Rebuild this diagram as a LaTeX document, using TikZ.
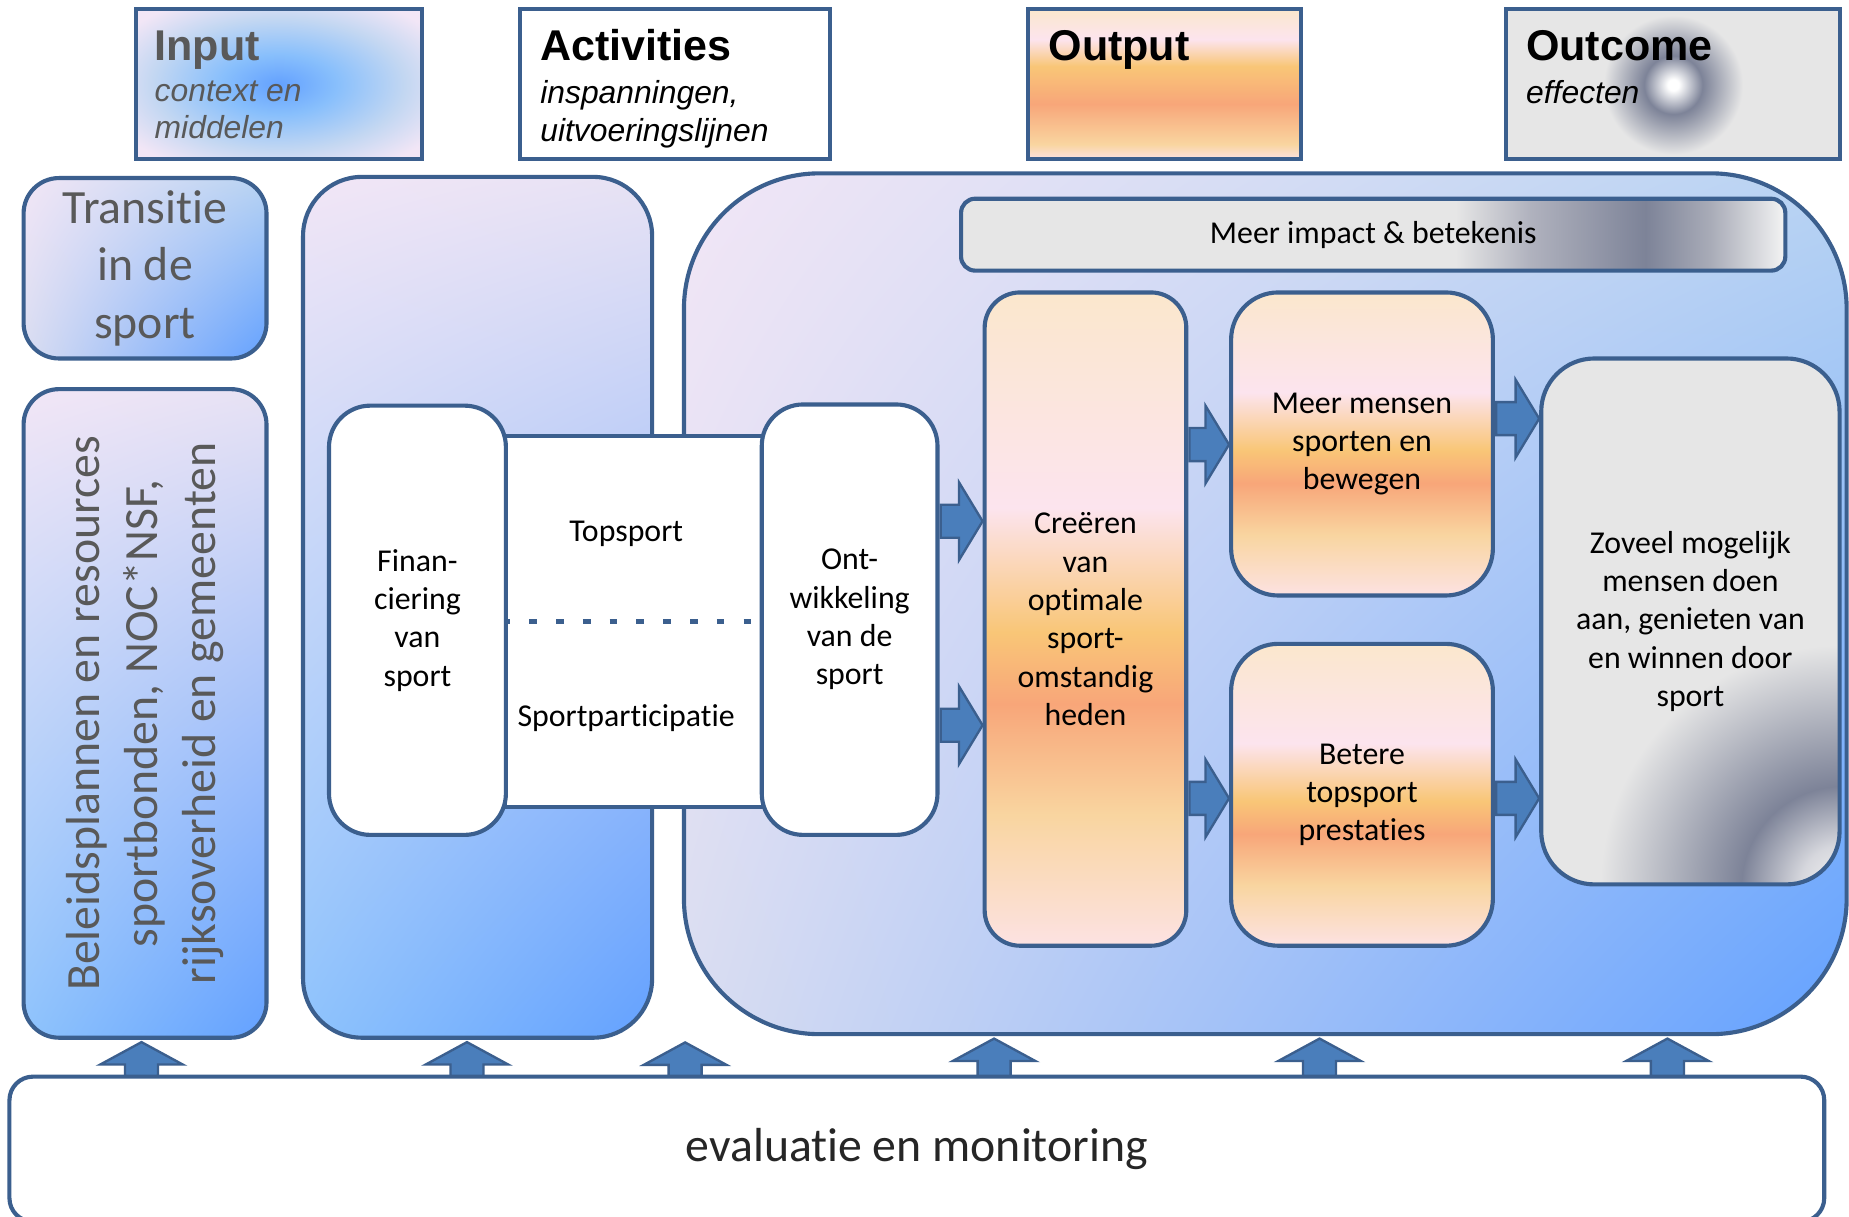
\documentclass[tikz,border=0pt]{standalone}
\usepackage{fontspec}
\setmainfont{Carlito}[Ligatures=NoCommon]
\newfontfamily\arialfont{Liberation Sans}
\usetikzlibrary{calc,shadings}

\definecolor{edge}{HTML}{3B5F8E}
\definecolor{arrowblue}{HTML}{4A7EBB}
\definecolor{greytext}{HTML}{595959}
\definecolor{lavender}{HTML}{F2E6F6}
\definecolor{lilac}{HTML}{E7E2F4}
\definecolor{skyblue}{HTML}{8EC3FC}
\definecolor{deepblue}{HTML}{63A1FF}
\definecolor{paleblue}{HTML}{B8D3F2}
\definecolor{mistblue}{HTML}{D9DDF1}
\definecolor{outgray}{HTML}{E6E6E6}
\definecolor{spotdark}{HTML}{7D8398}
\definecolor{spotlight}{HTML}{D6D7DD}
\definecolor{peach}{HTML}{FBE7CD}
\definecolor{blush}{HTML}{FCE4EE}
\definecolor{apricot}{HTML}{F9C677}
\definecolor{sunsalmon}{HTML}{F8A679}
\definecolor{cream}{HTML}{F9D5A0}
\definecolor{rosewhite}{HTML}{FCE2E2}
\definecolor{glowmid}{HTML}{88BFFC}
\definecolor{glowpale}{HTML}{C3D7F2}
\definecolor{impmid}{HTML}{B0B2BE}
\definecolor{impfade}{HTML}{A9ACB8}
\definecolor{impwhite}{HTML}{F4F4F4}

\pgfdeclareverticalshading{sunset}{100bp}{color(0bp)=(rosewhite); color(25bp)=(rosewhite);
  color(35bp)=(cream); color(43.5bp)=(sunsalmon); color(49bp)=(apricot);
  color(58.5bp)=(blush); color(75bp)=(peach); color(100bp)=(peach)}
\pgfdeclareverticalshading{outsunset}{100bp}{color(0bp)=(rosewhite); color(25bp)=(rosewhite);
  color(30bp)=(cream); color(43.5bp)=(sunsalmon); color(56bp)=(apricot);
  color(65bp)=(blush); color(75bp)=(peach); color(100bp)=(peach)}
\pgfdeclarehorizontalshading{impact}{100bp}{color(0bp)=(outgray); color(55bp)=(outgray);
  color(59.5bp)=(impmid); color(66.5bp)=(spotdark); color(70.5bp)=(impfade);
  color(75bp)=(impwhite); color(100bp)=(impwhite)}
\pgfdeclareradialshading{inputglow}{\pgfpoint{0bp}{0bp}}{color(0bp)=(deepblue);
  color(10bp)=(glowmid); color(22bp)=(glowpale); color(32bp)=(lavender); color(50bp)=(lavender)}
\pgfdeclareradialshading{outspot}{\pgfpoint{0bp}{0bp}}{color(0bp)=(white);
  color(2bp)=(white); color(10.5bp)=(spotdark); color(25bp)=(outgray); color(50bp)=(outgray)}
\pgfdeclareradialshading{zovspot}{\pgfpoint{0bp}{0bp}}{color(0bp)=(impwhite);
  color(4.3bp)=(spotlight); color(10.4bp)=(spotdark); color(25bp)=(outgray); color(50bp)=(outgray)}

\newcommand\blockright[3]{%
  \draw[blockarrow] let \p1=(#1.east), \p2=(#2.west), \p3=(0,#3) in
    (\x1+1pt,\y3+14pt) -- (\x2-20pt,\y3+14pt) -- (\x2-20pt,\y3+33pt) -- (\x2,\y3)
    -- (\x2-20pt,\y3-33pt) -- (\x2-20pt,\y3-14pt) -- (\x1+1pt,\y3-14pt) -- cycle;}
\newcommand\blockup[2]{%
  \draw[blockarrow] let \p1=(eval.north), \p2=(#2), \p3=(#1,0) in
    (\x3-14pt,\y1-1pt) -- (\x3-14pt,\y2-21pt) -- (\x3-35pt,\y2-21pt) -- (\x3,\y2-2pt)
    -- (\x3+35pt,\y2-21pt) -- (\x3+14pt,\y2-21pt) -- (\x3+14pt,\y1-1pt) -- cycle;}

\begin{document}
\begin{tikzpicture}[x=1pt, y=-1pt,
  frame/.style={draw=edge, line width=3.5pt, inner sep=0pt},
  roundbox/.style={frame, rounded corners=30pt},
  bodytext/.style={font=\fontsize{27}{32.5}\selectfont, align=center, text=black},
  bigtext/.style={font=\fontsize{40.5}{49}\selectfont, align=center, text=greytext},
  headtitle/.style={font=\arialfont\bfseries\fontsize{36.5}{40}\selectfont, anchor=base west, inner sep=0pt},
  headsub/.style={font=\arialfont\itshape\fontsize{27}{32}\selectfont, anchor=north west, align=left, inner sep=0pt},
  blockarrow/.style={fill=arrowblue, draw=edge, line width=2pt, line join=miter}]
\useasboundingbox[fill=white] (0,0) rectangle (1568,1032);

\node[frame, minimum width=243pt, minimum height=127pt, shade, shading=inputglow] (inputhdr) at (236.5,71.5) {};
\node[headtitle, text=greytext] (inputtitle) at (131,51) {Input};
\node[headsub, text=greytext] (inputsub) at (131,68) {context en\\middelen};

\node[frame, minimum width=263pt, minimum height=127pt, fill=white] (acthdr) at (572.5,71.5) {};
\node[headtitle] (acttitle) at (458,51) {Activities};
\node[headsub] (actsub) at (458,68) {inspanningen,\\uitvoeringslijnen};

\node[frame, minimum width=231pt, minimum height=127pt, shade, shading=outsunset] (outhdr) at (987.5,71.5) {};
\node[headtitle] (outtitle) at (889,51) {Output};

\node[frame, minimum width=283pt, minimum height=127pt, fill=outgray] (outchdr) at (1418.5,71.5) {};
\begin{scope}
\clip (1279,10) rectangle (1558,133);
\shade[shading=outspot] (1419,72) circle (59pt);
\end{scope}
\node[headtitle] (outctitle) at (1294,51) {Outcome};
\node[headsub] (outcsub) at (1294,68) {effecten};

\node[roundbox, bigtext, minimum width=206pt, minimum height=153pt,
  upper left=lavender, upper right=paleblue, lower left=mistblue, lower right=deepblue] (transitie) at (123,227.5) {Transitie\\in de\\sport};
\node[roundbox, minimum width=206pt, minimum height=550pt,
  upper left=lavender, upper right=lilac, lower left=skyblue, lower right=deepblue] (beleid) at (123,605) {};
\node[bigtext, rotate=90] (beleidtext) at (beleid.center) {Beleidsplannen en resources\\sportbonden, NOC*NSF,\\rijksoverheid en gemeenten};

\node[roundbox, rounded corners=50pt, minimum width=296pt, minimum height=730pt,
  upper left=lavender, upper right=lilac, lower left=skyblue, lower right=deepblue] (column) at (405,515) {};
\node[roundbox, rounded corners=115pt, minimum width=986pt, minimum height=730pt,
  upper left=lavender, upper right=paleblue, lower left=mistblue, lower right=deepblue] (block) at (1073,512) {};
\node[roundbox, bodytext, rounded corners=12pt, minimum width=699pt, minimum height=61pt,
  shade, shading=impact] (impact) at (1164.5,199) {Meer impact \& betekenis};

\node[frame, fill=white, minimum width=219pt, minimum height=314pt] (strip) at (537.5,527) {};
\draw[edge, line width=4.5pt, dash pattern=on 6.5pt off 16.2pt] (strip.west) -- (strip.east);
\node[bodytext] (topsport) at (531,453) {Topsport};
\node[bodytext] (sportpart) at (531,609) {Sportparticipatie};

\node[roundbox, bodytext, rounded corners=35pt, fill=white, minimum width=150pt, minimum height=364pt] (fin) at (354,526) {Finan-\\ciering\\van\\sport};
\node[roundbox, bodytext, rounded corners=35pt, fill=white, minimum width=149pt, minimum height=365pt] (ont) at (720.5,525.5) {Ont-\\wikkeling\\van de\\sport};

\node[roundbox, bodytext, shade, shading=sunset, minimum width=171pt, minimum height=554pt] (cre) at (920.5,525) {Creëren\\van\\optimale\\sport-\\omstandig\\heden};
\node[roundbox, bodytext, rounded corners=40pt, shade, shading=sunset, minimum width=222pt, minimum height=257pt] (meer) at (1155,376.5) {Meer mensen\\sporten en\\bewegen};
\node[roundbox, bodytext, rounded corners=40pt, shade, shading=sunset, minimum width=222pt, minimum height=256pt] (bet) at (1155,674) {Betere\\topsport\\prestaties};

\begin{scope}
\clip[rounded corners=45pt] (1307,304) rectangle (1560,750);
\fill[outgray] (1307,304) rectangle (1560,750);
\shade[shading=zovspot] (1562,752) circle (205pt);
\end{scope}
\node[roundbox, bodytext, rounded corners=45pt, minimum width=253pt, minimum height=446pt] (zov) at (1433.5,527) {Zoveel mogelijk\\mensen doen\\aan, genieten van\\en winnen door\\sport};

\blockright{ont}{cre}{442}
\blockright{ont}{cre}{615}
\blockright{cre}{meer}{377}
\blockright{cre}{bet}{677}
\blockright{meer}{zov}{355}
\blockright{bet}{zov}{677}

\node[roundbox, rounded corners=20pt, fill=white, minimum width=1539pt, minimum height=123pt,
  font=\fontsize{40.5}{48}\selectfont, text=black!85] (eval) at (777.5,974.5) {evaluatie en monitoring};
\coordinate (gap) at (581,882);

\blockup{120}{beleid.south}
\blockup{396}{column.south}
\blockup{581}{gap}
\blockup{843}{block.south}
\blockup{1119}{block.south}
\blockup{1414}{block.south}

\end{tikzpicture}
\end{document}
